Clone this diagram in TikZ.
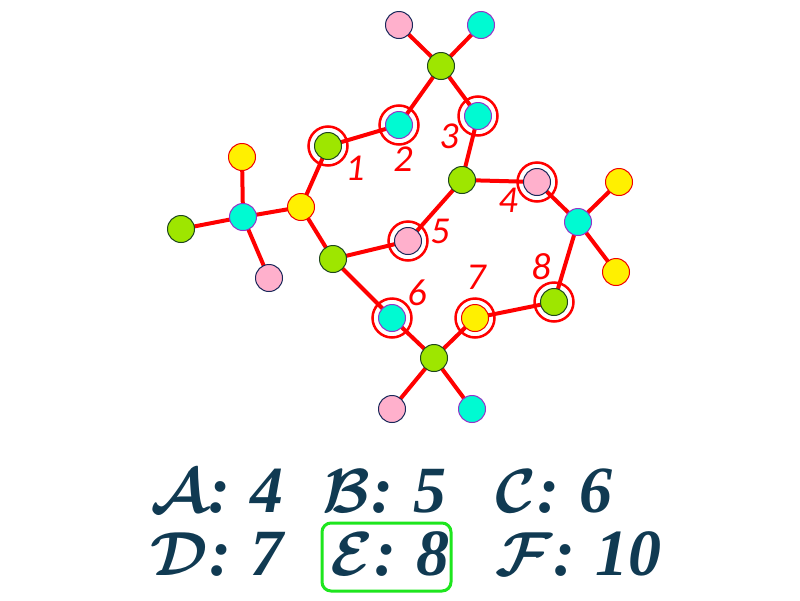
\documentclass[tikz,border=0pt]{standalone}
\usepackage{graphicx}
\usepackage{fontspec}
\newfontfamily\numfont{Carlito}
\newfontfamily\ansfont{Liberation Serif}
\definecolor{cgreen}{RGB}{158,230,0}
\definecolor{bgreen}{RGB}{30,70,30}
\definecolor{ccyan}{RGB}{0,250,210}
\definecolor{bcyan}{RGB}{150,50,200}
\definecolor{cpink}{RGB}{255,176,204}
\definecolor{bpink}{RGB}{25,40,90}
\definecolor{cyellow}{RGB}{255,240,0}
\definecolor{byellow}{RGB}{240,0,0}
\definecolor{ansc}{RGB}{16,58,82}
\definecolor{boxgreen}{RGB}{30,230,30}
\newcommand{\anstext}[2]{\scalebox{3}{\fontsize{22}{22}\selectfont\boldmath$\mathcal{#1}$\kern0.02em\ansfont\bfseries\itshape:\kern0.3em#2}}
\begin{document}
\begin{tikzpicture}[x=1pt,y=-1pt,
  atom/.style={circle,minimum size=27pt,inner sep=0pt,line width=1pt},
  G/.style={atom,fill=cgreen,draw=bgreen},
  C/.style={atom,fill=ccyan,draw=bcyan},
  P/.style={atom,fill=cpink,draw=bpink},
  Y/.style={atom,fill=cyellow,draw=byellow},
  bond/.style={draw=red,line width=4pt},
  ringmark/.style={draw=red,line width=2.5pt},
  num/.style={text=red,inner sep=0pt,font=\numfont\itshape\fontsize{38}{38}\selectfont},
  ans/.style={anchor=base west,inner sep=0pt,text=ansc},
  ebox/.style={draw=boxgreen,line width=3pt,rounded corners=9pt,minimum width=129pt,minimum height=68pt,inner sep=0pt}]
\useasboundingbox[fill=white] (0,0) rectangle (800,600);
% atom centres
\coordinate (T) at (441,66);
\coordinate (Tp) at (399,25);
\coordinate (Tc) at (481,25);
\coordinate (n2) at (399,125);
\coordinate (n3) at (478,116);
\coordinate (n1) at (328,146);
\coordinate (Y) at (301,207);
\coordinate (Lc) at (243,217);
\coordinate (Ly) at (242,157);
\coordinate (Lg) at (181,229);
\coordinate (Lp) at (269,278);
\coordinate (G2) at (333,259);
\coordinate (n5) at (408,241);
\coordinate (Cn) at (462,180);
\coordinate (n4) at (537,182);
\coordinate (Rc) at (578,222);
\coordinate (Ry1) at (619,182);
\coordinate (Ry2) at (616,272);
\coordinate (n8) at (554,302);
\coordinate (n7) at (475,318);
\coordinate (n6) at (392,318);
\coordinate (B) at (434,358);
\coordinate (Bp) at (392,409);
\coordinate (Bc) at (472,409);
% bonds
\path[bond] (T) -- (Tp) (T) -- (Tc) (T) -- (n2) (T) -- (n3)
  (n2) -- (n1) (n1) -- (Y) (Y) -- (Lc) (Lc) -- (Ly) (Lc) -- (Lg) (Lc) -- (Lp)
  (Y) -- (G2) (G2) -- (n5) (G2) -- (n6) (n3) -- (Cn) (Cn) -- (n5) (Cn) -- (n4)
  (n4) -- (Rc) (Rc) -- (Ry1) (Rc) -- (Ry2) (Rc) -- (n8) (n8) -- (n7)
  (n7) -- (B) (n6) -- (B) (B) -- (Bp) (B) -- (Bc);
% atoms
\foreach \n/\s in {T/G,Tp/P,Tc/C,n2/C,n3/C,n1/G,Y/Y,Lc/C,Ly/Y,Lg/G,Lp/P,G2/G,n5/P,Cn/G,n4/P,Rc/C,Ry1/Y,Ry2/Y,n8/G,n7/Y,n6/C,B/G,Bp/P,Bc/C}
  \node[\s] (a\n) at (\n) {};
% rings
\foreach \n in {n1,n2,n3,n4,n5,n6,n7,n8}
  \draw[ringmark] (\n) circle (19.5);
% numbers
\node[num] (l1) at (355,168) {1};
\node[num] (l2) at (403,159) {2};
\node[num] (l3) at (449,136) {3};
\node[num] (l4) at (508,200) {4};
\node[num] (l5) at (440,231) {5};
\node[num] (l6) at (417,293) {6};
\node[num] (l7) at (476,277) {7};
\node[num] (l8) at (541,267) {8};
% answers
\node[ans] (A) at (150,512) {\anstext{A}{4}};
\node[ans] (Bans) at (322,512) {\anstext{B}{5}};
\node[ans] (Cans) at (495,512) {\anstext{C}{6}};
\node[ans] (D) at (150,575) {\anstext{D}{7}};
\node[ebox] (Ebox) at (386.5,557) {};
\node[ans] (E) at (330,575) {\anstext{E}{8}};
\node[ans] (F) at (495,575) {\anstext{F}{10}};
\end{tikzpicture}
\end{document}
